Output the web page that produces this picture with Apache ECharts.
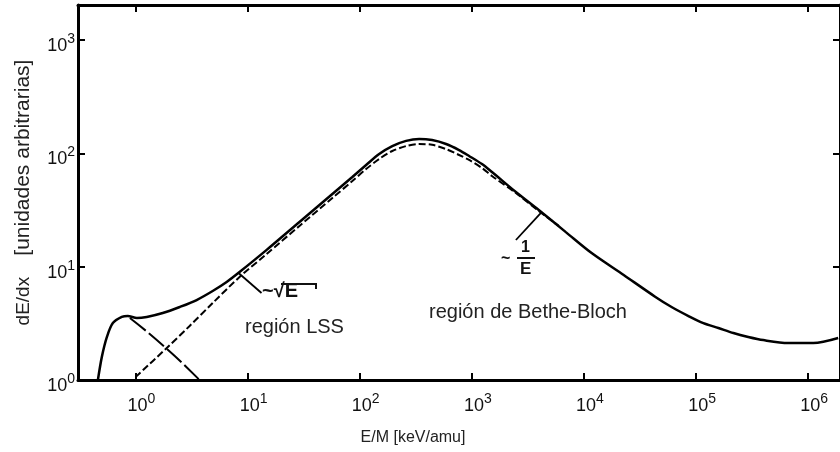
<!DOCTYPE html>
<html>
<head>
<meta charset="utf-8">
<script src="https://cdn.jsdelivr.net/npm/echarts@6/dist/echarts.min.js"></script>
<style>
html,body{margin:0;padding:0;background:#fff;}
#chart{width:840px;height:452px;}
</style>
</head>
<body>
<div id="chart"></div>
<script>
// ---- data (E/M in keV/amu, dE/dx in arbitrary units) ----
const energyTotal = [0.462, 0.501, 0.556, 0.628, 0.755, 0.853, 1.03, 1.26, 1.75, 2.48, 3.51, 4.88, 6.50, 8.47, 14.7, 29.0, 57.0, 85.9, 114, 149, 195, 259, 339, 442, 589, 769, 944, 1230, 1510, 2470, 3950, 6890, 11700, 22600, 43400, 60400, 85500, 116000, 158000, 215000, 292000, 397000, 662000, 1110000, 1850000];
const dedxTotal   = [1.0, 1.60, 2.40, 3.18, 3.60, 3.67, 3.52, 3.60, 3.90, 4.41, 5.08, 6.10, 7.33, 8.97, 14.0, 24.8, 43.8, 61.9, 79.0, 98.8, 116, 129, 134, 131, 121, 107, 94.9, 80.5, 68.5, 45.6, 31.6, 20.2, 13.2, 8.45, 5.41, 4.41, 3.67, 3.18, 2.88, 2.60, 2.40, 2.25, 2.12, 2.12, 2.35];

const energyElectronic = [1.0, 1.86, 3.04, 4.88, 8.47, 14.7, 29.0, 57.0, 85.9, 114, 149, 195, 259, 339, 442, 589, 769, 944, 1230, 1510, 2470, 3950, 5960];
const dedxElectronic   = [1.06, 1.88, 3.0, 4.78, 8.11, 12.9, 22.9, 40.4, 57.0, 72.8, 89.3, 105, 116, 121, 119, 109, 96.8, 87.5, 74.3, 63.2, 44.7, 31.0, 22.9];

const energyNuclear = [0.891, 1.34, 2.24, 3.73];
const dedxNuclear   = [3.52, 2.55, 1.63, 1.0];

const xTickExponents = [0, 1, 2, 3, 4, 5, 6];
const yTickExponents = [0, 1, 2, 3];

const xRange = [0.307, 1920000];
const yRange = [1, 2040];

const pointerSqrt = [[8.3, 8.8], [13.3, 5.86]];
const pointerInv  = [[4210, 30.4], [2470, 17.2]];

// ---- helpers ----
const L = Math.log10;
const toLog = (xs, ys) => xs.map((x, i) => [L(x), L(ys[i])]);

const chart = echarts.init(document.getElementById('chart'), null, {renderer: 'canvas'});

const labelRich = {
  b: {fontSize: 18, fontFamily: 'Liberation Sans', color: '#111', verticalAlign: 'bottom', lineHeight: 20},
  s: {fontSize: 14, fontFamily: 'Liberation Sans', color: '#111', verticalAlign: 'bottom', lineHeight: 14, padding: [0, 0, 9, 0]}
};
const fmt = v => '{b|10}{s|' + Math.round(v) + '}';

const frameLine = {show: true, onZero: false, lineStyle: {color: '#000', width: 3}};
const tickStyle = (vals) => ({show: true, inside: true, length: 7, lineStyle: {color: '#000', width: 2}, customValues: vals});

const option = {
  backgroundColor: '#fff',
  animation: false,
  grid: {left: 78, top: 5, right: -2, bottom: 72},
  xAxis: [
    {
      type: 'value', min: L(xRange[0]), max: L(xRange[1]),
      position: 'bottom',
      axisLine: frameLine,
      axisTick: tickStyle(xTickExponents),
      splitLine: {show: false},
      axisLabel: {customValues: xTickExponents, formatter: fmt, rich: labelRich, margin: 15, padding: [0, 0, 0, 12]},
      name: 'E/M [keV/amu]', nameLocation: 'middle', nameGap: 50,
      nameTextStyle: {fontSize: 16, fontFamily: 'Liberation Sans', color: '#222', padding: [0, 92, 0, 0]}
    },
    {
      type: 'value', min: L(xRange[0]), max: L(xRange[1]),
      position: 'top',
      axisLine: frameLine,
      axisTick: tickStyle(xTickExponents),
      splitLine: {show: false},
      axisLabel: {show: false}
    }
  ],
  yAxis: [
    {
      type: 'value', min: L(yRange[0]), max: L(yRange[1]),
      position: 'left',
      axisLine: frameLine,
      axisTick: tickStyle(yTickExponents),
      splitLine: {show: false},
      axisLabel: {customValues: yTickExponents, formatter: fmt, rich: labelRich, margin: 3, padding: [10, 0, 0, 0]},
      name: '{a|dE/dx}    {c|[unidades arbitrarias]}', nameLocation: 'middle', nameGap: 44, nameRotate: 90,
      nameTextStyle: {
        fontSize: 19, fontFamily: 'Liberation Sans', color: '#222',
        rich: {
          a: {fontSize: 19, fontFamily: 'Liberation Sans', color: '#222'},
          c: {fontSize: 21, fontFamily: 'Liberation Sans', color: '#222'}
        }
      }
    },
    {
      type: 'value', min: L(yRange[0]), max: L(yRange[1]),
      position: 'right',
      axisLine: frameLine,
      axisTick: tickStyle(yTickExponents),
      splitLine: {show: false},
      axisLabel: {show: false}
    }
  ],
  series: [
    {
      name: 'total', type: 'line', data: toLog(energyTotal, dedxTotal),
      smooth: 0.3, showSymbol: false, symbol: 'none',
      lineStyle: {color: '#000', width: 2.5},
      markLine: {
        silent: true, symbol: 'none', label: {show: false},
        lineStyle: {color: '#000', width: 1.8, type: 'solid'},
        data: [
          [{coord: [L(pointerSqrt[0][0]), L(pointerSqrt[0][1])]}, {coord: [L(pointerSqrt[1][0]), L(pointerSqrt[1][1])]}],
          [{coord: [L(pointerInv[0][0]), L(pointerInv[0][1])]}, {coord: [L(pointerInv[1][0]), L(pointerInv[1][1])]}]
        ]
      }
    },
    {
      name: 'electronic', type: 'line', data: toLog(energyElectronic, dedxElectronic),
      smooth: 0.3, showSymbol: false, symbol: 'none',
      lineStyle: {color: '#000', width: 2, type: [7, 3]}
    },
    {
      name: 'nuclear', type: 'line', data: toLog(energyNuclear, dedxNuclear),
      smooth: 0.3, showSymbol: false, symbol: 'none',
      lineStyle: {color: '#000', width: 2, type: [20, 4]}
    }
  ],
  graphic: [
    {type: 'text', left: 262, top: 281, style: {text: '~√E', font: 'bold 20px Liberation Sans', fill: '#111'}},
    {type: 'polyline', shape: {points: [[281, 284], [316, 284], [316, 289]]}, style: {stroke: '#111', lineWidth: 2, fill: null}},
    {type: 'text', left: 245, top: 317, style: {text: 'región LSS', font: '20px Liberation Sans', fill: '#222'}},
    {type: 'text', left: 501, top: 251, style: {text: '~', font: 'bold 16px Liberation Sans', fill: '#111'}},
    {type: 'text', left: 521, top: 240, style: {text: '1', font: 'bold 16px Liberation Sans', fill: '#111'}},
    {type: 'line', shape: {x1: 517, y1: 258, x2: 535, y2: 258}, style: {stroke: '#111', lineWidth: 2}},
    {type: 'text', left: 520, top: 261, style: {text: 'E', font: 'bold 17px Liberation Sans', fill: '#111'}},
    {type: 'text', left: 429, top: 302, style: {text: 'región de Bethe-Bloch', font: '20px Liberation Sans', fill: '#222'}}
  ]
};
chart.setOption(option);
</script>
</body>
</html>
